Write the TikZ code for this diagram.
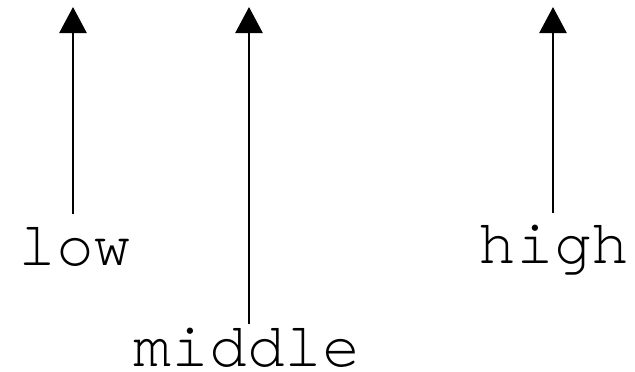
\documentclass[tikz,border=0pt]{standalone}
\usepackage{fontspec}
\newfontfamily\cour{TeX Gyre Cursor}
\usetikzlibrary{arrows.meta}
\begin{document}
\begin{tikzpicture}[x=1bp,y=-1bp,
  lbl/.style={font=\cour\fontsize{63bp}{63bp}\selectfont, inner sep=0pt, anchor=base},
  arr/.style={line width=2.6bp, -{Triangle[width=27bp,length=26bp]}}]
\useasboundingbox (0,0) rectangle (635,371);
\node[lbl] (low) at (75,265) {low};
\node[lbl, text depth=0pt] (middle) at (247,366) {middle};
\node[lbl] (high) at (554,263) {high};
\coordinate (lowtop) at (73,7);
\coordinate (midtop) at (249,7);
\coordinate (hightop) at (553,7);
\coordinate (lowbot) at (73,214);
\coordinate (midbot) at (249,324);
\coordinate (highbot) at (553,213);
\draw[arr] (lowbot) -- (lowtop);
\draw[arr] (midbot) -- (midtop);
\draw[arr] (highbot) -- (hightop);
\end{tikzpicture}
\end{document}
